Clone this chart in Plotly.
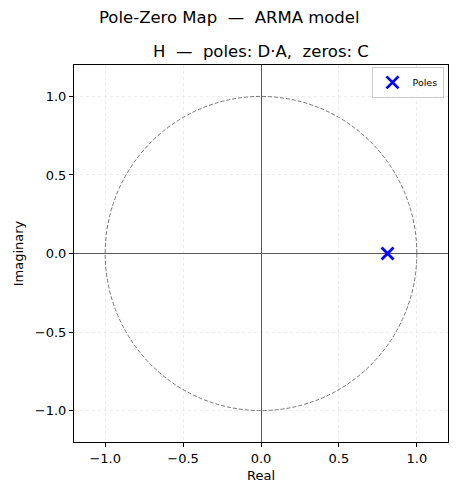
import plotly.graph_objects as go

# pole / zero locations
pole_re = [0.812]
pole_im = [0.0]

tick_vals = [-1.0, -0.5, 0.0, 0.5, 1.0]
tick_text = ["\u22121.0", "\u22120.5", "0.0", "0.5", "1.0"]

font = "DejaVu Sans, Arial, sans-serif"

fig = go.Figure()

# unit circle
fig.add_shape(type="circle", xref="x", yref="y", x0=-1, y0=-1, x1=1, y1=1,
              line=dict(color="#666666", width=0.9, dash="4px,2px"), layer="between")

fig.add_trace(go.Scatter(
    x=pole_re, y=pole_im, mode="markers", name="Poles",
    marker=dict(symbol="x-thin", size=12, color="blue",
                line=dict(color="blue", width=2.8)),
))

axis_common = dict(
    range=[-1.2, 1.2], tickvals=tick_vals, ticktext=tick_text,
    showgrid=True, gridcolor="#ececec", griddash="dot", gridwidth=0.8,
    zeroline=True, zerolinecolor="#5a5a5a", zerolinewidth=0.7,
    showline=True, linecolor="black", linewidth=1, mirror=True,
    ticks="outside", ticklen=4, tickcolor="black",
    tickfont=dict(family=font, size=13, color="black"),
    title_font=dict(family=font, size=13, color="black"),
)

fig.update_xaxes(**axis_common, title_text="Real", title_standoff=6)
fig.update_yaxes(**axis_common, title_text="Imaginary", title_standoff=8)

fig.add_annotation(text="Pole-Zero Map  \u2014  ARMA model", xref="paper", yref="paper",
                   x=0.417, y=1.127, xanchor="center", yanchor="middle", showarrow=False,
                   font=dict(family=font, size=16.5, color="black"))
fig.add_annotation(text="H  \u2014  poles: D\u00b7A,  zeros: C", xref="paper", yref="paper",
                   x=0.5, y=1.037, xanchor="center", yanchor="middle", showarrow=False,
                   font=dict(family=font, size=16.5, color="black"))

# the page adds an 8px body margin, so the figure is 8px smaller
fig.update_layout(
    width=451, height=487,
    margin=dict(l=65, r=10, t=57, b=53),
    paper_bgcolor="white", plot_bgcolor="white",
    showlegend=True,
    legend=dict(x=0.988, y=0.995, xanchor="right", yanchor="top",
                bgcolor="rgba(255,255,255,0.8)", bordercolor="#cccccc", borderwidth=1,
                font=dict(family=font, size=9.5, color="black")),
)

fig.write_html("out.html")
